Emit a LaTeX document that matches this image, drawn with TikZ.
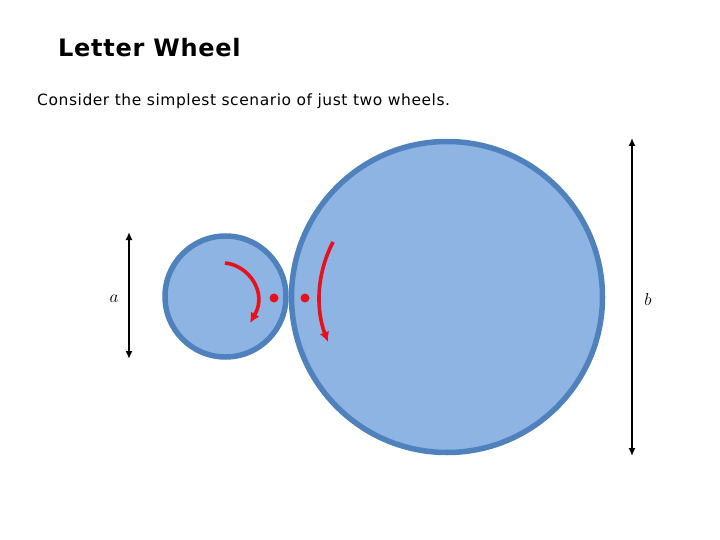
\documentclass[tikz,border=0pt]{standalone}
\usepackage{fontspec}
\setmainfont{DejaVu Sans}
\usetikzlibrary{arrows.meta}
\definecolor{wheelfill}{HTML}{8EB4E3}
\definecolor{wheeledge}{HTML}{4F81BD}
\definecolor{spinred}{HTML}{E8101A}
\tikzset{
  wheel/.style={circle, draw=wheeledge, fill=wheelfill, line width=5.5pt, inner sep=0pt},
  dimline/.style={line width=2.2pt, {Latex[length=8pt,width=7pt]}-{Latex[length=8pt,width=7pt]}},
  spin/.style={draw=spinred, line width=3.6pt, -{Latex[length=10pt,width=10pt]}},
  pin/.style={circle, fill=spinred, inner sep=0pt, minimum size=9pt},
}
\begin{document}
\begin{tikzpicture}[x=1pt,y=-1pt]
\useasboundingbox (0,0) rectangle (720,540);
\node[anchor=west, inner sep=0pt, font=\addfontfeatures{LetterSpace=3}\bfseries\fontsize{24}{28}\selectfont] (title) at (58,48) {Letter Wheel};
\node[anchor=west, inner sep=0pt, font=\addfontfeatures{LetterSpace=3.6}\fontsize{15.5}{18}\selectfont] (sub) at (37,101) {Consider the simplest scenario of just two wheels.};
\node[wheel, minimum size=121pt] (small) at (225.5,296.5) {};
\node[wheel, minimum size=311pt] (big) at (447,297) {};
\node[pin] (d1) at (274,298) {};
\node[pin] (d2) at (305,298) {};
\coordinate (s1) at (225,263);
\coordinate (s2) at (250,323);
\draw[spin] (s1) .. controls (248,265) and (268,292) .. (s2);
\coordinate (b1) at (333,242);
\coordinate (b2) at (328,342);
\draw[spin] (b1) .. controls (316,275) and (316,310) .. (b2);
\coordinate (at) at (129,232);
\coordinate (ab) at (129,359);
\draw[dimline] (at) -- (ab);
\coordinate (bt) at (632,138);
\coordinate (bb) at (632,456);
\draw[dimline] (bt) -- (bb);
\node[font=\fontsize{18}{20}\selectfont] (la) at (114,299) {$a$};
\node[font=\fontsize{18}{20}\selectfont] (lb) at (648,299) {$b$};
\end{tikzpicture}
\end{document}
